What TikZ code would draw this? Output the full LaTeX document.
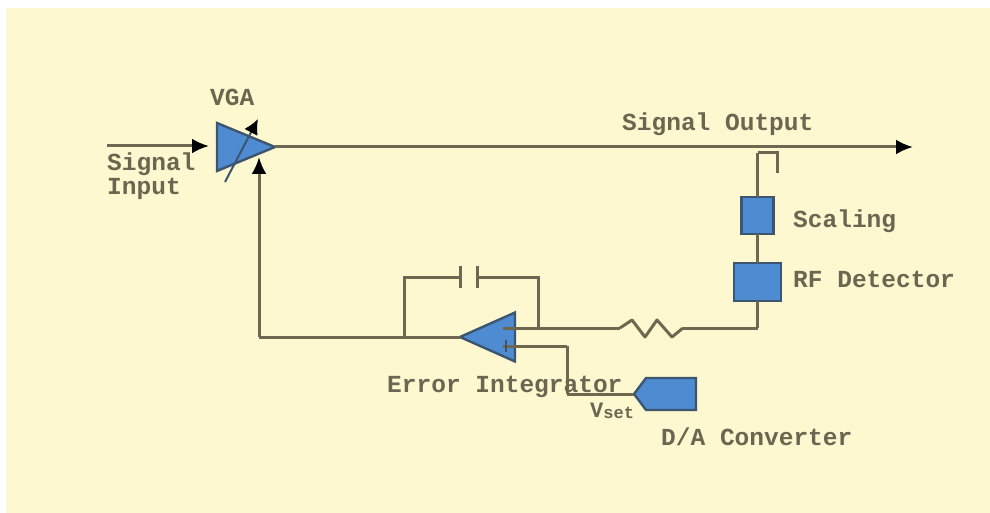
\documentclass[tikz,border=0pt]{standalone}
\usepackage{fontspec}
\setmainfont{Liberation Mono}
\usetikzlibrary{shapes.geometric,shapes.symbols,arrows.meta}
\definecolor{bgy}{HTML}{FEF8D0}
\definecolor{wirec}{HTML}{6E6850}
\definecolor{blockc}{HTML}{4F8BD0}
\definecolor{edgec}{HTML}{3C5570}
\definecolor{textc}{HTML}{6A6650}
\tikzset{
  wire/.style={draw=wirec,line width=3pt},
  arrowwire/.style={wire,-{Latex[black,length=17pt,width=15pt]}},
  block/.style={draw=edgec,fill=blockc,line width=2.4pt,inner sep=0pt,outer sep=0pt},
  amp/.style={block,shape=isosceles triangle,isosceles triangle stretches,anchor=apex},
  lbl/.style={text=textc,font=\fontsize{24.5}{24.5}\selectfont\bfseries,inner sep=0pt,anchor=base west}
}
\begin{document}
\begin{tikzpicture}[x=1pt,y=-1pt]
\useasboundingbox (0,0) rectangle (990,513);
\fill[white] (0,0) rectangle (990,513);
\fill[bgy] (6,8) rectangle (990,513);
% free ends and bends
\coordinate (inS) at (107,146);
\coordinate (inE) at (209,146);
\coordinate (outE) at (913,147);
\coordinate (fbB) at (259,337);
\coordinate (fbT) at (259,157);
\coordinate (capL) at (404,337);
\coordinate (capLT) at (404,277);
\coordinate (plateA) at (460,277);
\coordinate (plateB) at (477,277);
\coordinate (capR) at (538,277);
\coordinate (capRB) at (538,328);
\coordinate (minus) at (503,328);
\coordinate (plus) at (503,346);
\coordinate (resL) at (620,328);
\coordinate (resR) at (683,328);
\coordinate (rfB) at (757.5,328);
\coordinate (vsT) at (567,346);
\coordinate (vsB) at (567,394);
\coordinate (tapA) at (757.5,153);
\coordinate (tapB) at (777,153);
\coordinate (tapC) at (777,173);
\coordinate (gainS) at (225,182);
\coordinate (gainE) at (258,119);
% wires
\draw[arrowwire] (inS) -- (inE);
\draw[wire] (capL) -- (capLT) -- (plateA);
\draw[wire] (plateB) -- (capR) -- (capRB);
\draw[wire,line join=round] (resL) -- ++(12,-8) -- ++(13,17) -- ++(12,-17) -- ++(15,17) -- (resR);
\draw[wire] (resR) -- (rfB);
\draw[wire] (vsT) -- (vsB);
\draw[arrowwire] (fbB) -- (fbT);
\draw[wire] (fbB) -- (capL);
\draw[wire] (tapC) -- (tapB) -- (tapA);
% blocks
\node[amp,minimum width=48pt,minimum height=58pt] (vga) at (275,147) {};
\node[amp,shape border rotate=180,minimum width=49pt,minimum height=55pt] (integ) at (460,337) {};
\node[block,minimum width=32pt,minimum height=37pt] (scaling) at (757.5,215.5) {};
\node[block,minimum width=47pt,minimum height=38pt] (rf) at (757.5,282) {};
\node[block,shape=signal,signal to=west,signal pointer angle=106,minimum width=62pt,minimum height=32pt,anchor=west] (dac) at (634,394) {};
% connectors tied to blocks
\draw[arrowwire] (vga.apex) -- (outE);
\draw[wire] (capL) -- (integ.apex);
\draw[wire] (minus) -- (resL);
\draw[wire] (plus) -- (vsT);
\draw[wire] (tapA) -- (scaling.north);
\draw[wire] (scaling.south) -- (rf.north);
\draw[wire] (rf.south) -- (rfB);
\draw[wire] (vsB) -- (dac.west);
\draw[wire] (plateA |- 0,266) -- (plateA |- 0,288);
\draw[wire] (plateB |- 0,266) -- (plateB |- 0,288);
\draw[draw=edgec,line width=2pt,-{Latex[black,length=15pt,width=15pt]}] (gainS) -- (gainE);
\draw[draw=edgec,line width=2pt] (506,340) -- (506,352);
% labels
\node[lbl] (tvga) at (210,106) {VGA};
\node[lbl] (tsig) at (107,171) {Signal};
\node[lbl] (tinp) at (107,195) {Input};
\node[lbl] (tout) at (622,131) {Signal Output};
\node[lbl] (tsca) at (793,227) {Scaling};
\node[lbl] (trf) at (793,287) {RF Detector};
\node[lbl] (terr) at (387,392) {Error Integrator};
\node[lbl] (tda) at (661,445) {D/A Converter};
\node[lbl,font=\fontsize{22}{22}\selectfont\bfseries] (tv) at (590,417) {V\raisebox{-1pt}{\fontsize{17}{17}\selectfont set}};
\end{tikzpicture}
\end{document}
